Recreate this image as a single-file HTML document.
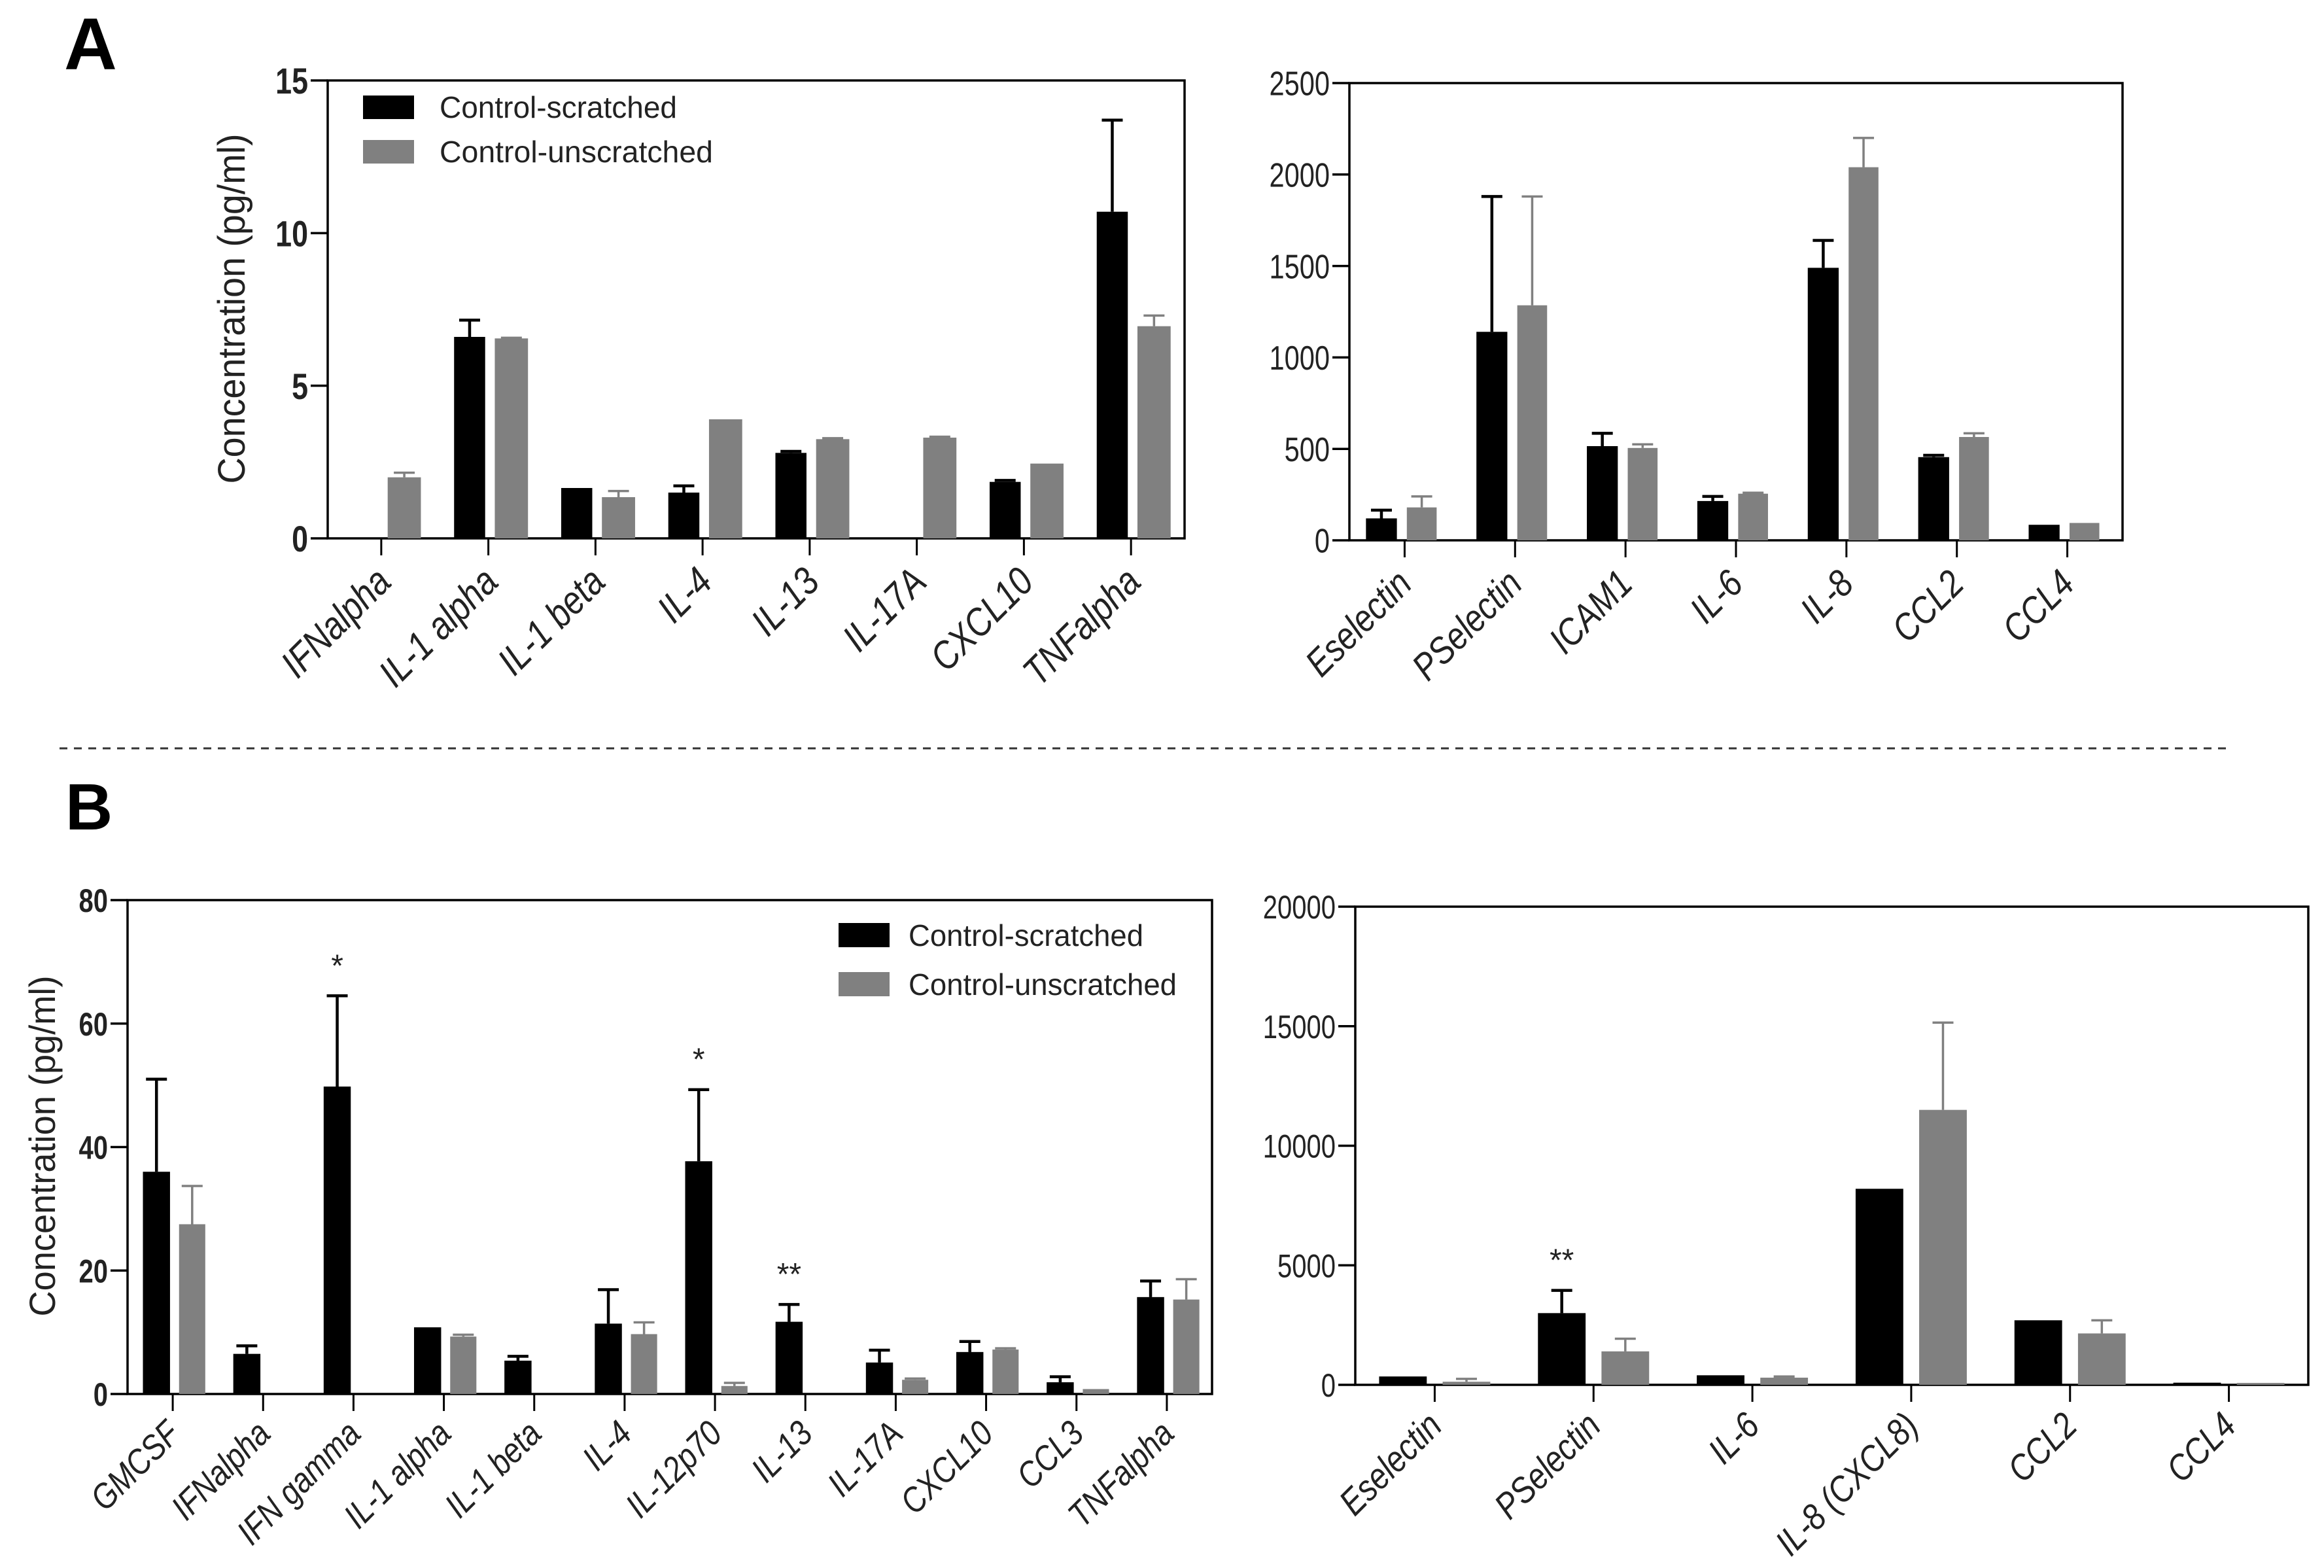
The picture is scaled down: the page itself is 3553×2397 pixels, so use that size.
<!DOCTYPE html>
<html><head><meta charset="utf-8"><style>
html,body{margin:0;padding:0;background:#fff;}
svg{display:block;font-family:"Liberation Sans",sans-serif;}
</style></head><body>
<svg id="fig" width="3553" height="2397" viewBox="0 0 3553 2397" xmlns="http://www.w3.org/2000/svg">
<rect x="0" y="0" width="3553" height="2397" fill="#fff"/>
<text x="98" y="106" font-size="112" font-weight="bold">A</text>
<text x="100" y="1268" font-size="100" font-weight="bold">B</text>
<line x1="91" y1="1144" x2="3410" y2="1144" stroke="#333" stroke-width="3" stroke-dasharray="12,10"/>
<g id="charts"></g>
</svg>
<script>
// Panel A left
const aLeftCats = ["IFNalpha","IL-1  alpha","IL-1  beta","IL-4","IL-13","IL-17A","CXCL10","TNFalpha"];
const aLeftBlack = [0, 6.6, 1.65, 1.5, 2.8, 0, 1.85, 10.7];
const aLeftBlackErr = [0, 7.15, 1.65, 1.72, 2.85, 0, 1.9, 13.7];
const aLeftGray = [2.0, 6.55, 1.35, 3.9, 3.25, 3.3, 2.45, 6.95];
const aLeftGrayErr = [2.15, 6.57, 1.55, 3.9, 3.28, 3.33, 2.45, 7.3];
const aLeftTicks = [0, 5, 10, 15];
const aLeftStars = ["","","","","","","",""];
// Panel A right
const aRightCats = ["Eselectin","PSelectin","ICAM1","IL-6","IL-8","CCL2","CCL4"];
const aRightBlack = [120, 1140, 515, 215, 1490, 455, 85];
const aRightBlackErr = [165, 1880, 585, 240, 1640, 465, 85];
const aRightGray = [180, 1285, 505, 255, 2040, 565, 95];
const aRightGrayErr = [240, 1880, 525, 260, 2200, 585, 95];
const aRightTicks = [0, 500, 1000, 1500, 2000, 2500];
const aRightStars = ["","","","","","",""];
// Panel B left
const bLeftCats = ["GMCSF","IFNalpha","IFN gamma","IL-1 alpha","IL-1 beta","IL-4","IL-12p70","IL-13","IL-17A","CXCL10","CCL3","TNFalpha"];
const bLeftBlack = [36, 6.5, 49.8, 10.8, 5.4, 11.4, 37.7, 11.7, 5.1, 6.8, 1.9, 15.7];
const bLeftBlackErr = [51, 7.8, 64.5, 10.8, 6.1, 16.9, 49.3, 14.5, 7.1, 8.5, 2.8, 18.3];
const bLeftGray = [27.5, 0, 0, 9.3, 0, 9.7, 1.3, 0, 2.3, 7.2, 0.8, 15.3];
const bLeftGrayErr = [33.7, 0, 0, 9.6, 0, 11.6, 1.8, 0, 2.5, 7.4, 0.8, 18.6];
const bLeftTicks = [0, 20, 40, 60, 80];
const bLeftStars = ["","","*","","","","*","**","","","",""];
// Panel B right
const bRightCats = ["Eselectin","PSelectin","IL-6","IL-8 (CXCL8)","CCL2","CCL4"];
const bRightBlack = [350, 3000, 400, 8200, 2700, 90];
const bRightBlackErr = [350, 3950, 400, 8200, 2700, 90];
const bRightGray = [130, 1400, 300, 11500, 2150, 80];
const bRightGrayErr = [250, 1930, 350, 15150, 2700, 80];
const bRightTicks = [0, 5000, 10000, 15000, 20000];
const bRightStars = ["","**","","","",""];

const NS = "http://www.w3.org/2000/svg";
const root = document.getElementById("charts");
function mk(tag, attrs, parent){
  const e = document.createElementNS(NS, tag);
  for (const k in attrs) e.setAttribute(k, attrs[k]);
  (parent || root).appendChild(e);
  return e;
}
function drawChart(c){
  const g = mk("g", {});
  
  
  const ymax = c.ticks[c.ticks.length-1];
  const yS = v => c.bottom - (v / ymax) * (c.bottom - c.top);
  const cw = (c.right - c.left) / c.cats.length;
  const xC = i => c.left + (i + 0.5) * cw;
  const fr = mk("rect", {x:c.left, y:c.top, width:c.right-c.left, height:c.bottom-c.top, fill:"none", stroke:"#000", "stroke-width":3.5}, g);
  
  
  c.ticks.forEach(t => {
    const y = yS(t);
    const tl = mk("line", {x1:c.left-26, y1:y, x2:c.left, y2:y, stroke:"#000", "stroke-width":3.5}, g);
    
    
    const tg = mk("g", {transform:`translate(${c.left-30},${y + c.tickFs*0.36}) scale(0.8,1)`}, g);
    const tx = mk("text", {x:0, y:0, "text-anchor":"end", "font-size":c.tickFs, "font-weight":c.tickBold?"bold":"normal", fill:"#222"}, tg);
    tx.textContent = t;
    
    
  });
  c.cats.forEach((cat, i) => {
    const xc = xC(i);
    const xt = mk("line", {x1:xc, y1:c.bottom, x2:xc, y2:c.bottom+26, stroke:"#000", "stroke-width":3}, g);
    
    
    const series = [
      {v:c.black[i], e:c.blackErr[i], a:c.bOff[0], b:c.bOff[1], col:"#000", sw:4.5, nm:"bar-control-scratched"},
      {v:c.gray[i], e:c.grayErr[i], a:c.gOff[0], b:c.gOff[1], col:"#808080", sw:3.5, nm:"bar-control-unscratched"}
    ];
    series.forEach(s => {
      if (s.v <= 0) return;
      const x0 = xc + s.a*cw, x1 = xc + s.b*cw;
      const r = mk("rect", {x:x0, y:yS(s.v), width:x1-x0, height:c.bottom-yS(s.v), fill:s.col}, g);
      
      
      if (s.e > s.v) {
        const xm = (x0+x1)/2;
        const el = mk("path", {d:`M${xm},${yS(s.v)} L${xm},${yS(s.e)} M${xm-16},${yS(s.e)} L${xm+16},${yS(s.e)}`, stroke:s.col, "stroke-width":s.sw, fill:"none"}, g);
        
        
      }
    });
    if (c.stars[i]) {
      const xm = xc + (c.bOff[0]+c.bOff[1])/2*cw;
      const st = mk("text", {x:xm, y:yS(c.blackErr[i]) - 30, "text-anchor":"middle", "font-size":48, fill:"#222"}, g);
      st.textContent = c.stars[i];
      
      
    }
    const lg = mk("g", {transform:`translate(${xc + c.lblDx},${c.bottom + c.lblDy}) rotate(-45) scale(0.85,1)`}, g);
    const lt = mk("text", {x:0, y:0, "text-anchor":"end", "font-size":c.lblFs, "font-style":"italic", fill:"#222"}, lg);
    lt.textContent = cat;
    
    
  });
}

drawChart({name:"chart-a-left", left:501, right:1811, top:123, bottom:823, cats:aLeftCats, black:aLeftBlack, blackErr:aLeftBlackErr, gray:aLeftGray, grayErr:aLeftGrayErr, ticks:aLeftTicks, stars:aLeftStars, bOff:[-0.32,-0.03], gOff:[0.06,0.37], tickFs:56, tickBold:true, lblFs:60, lblDx:18, lblDy:70});
drawChart({name:"chart-a-right", left:2063, right:3245, top:127, bottom:826, cats:aRightCats, black:aRightBlack, blackErr:aRightBlackErr, gray:aRightGray, grayErr:aRightGrayErr, ticks:aRightTicks, stars:aRightStars, bOff:[-0.35,-0.07], gOff:[0.02,0.29], tickFs:52, tickBold:false, lblFs:58, lblDx:14, lblDy:70});
drawChart({name:"chart-b-left", left:195, right:1853, top:1376, bottom:2131, cats:bLeftCats, black:bLeftBlack, blackErr:bLeftBlackErr, gray:bLeftGray, grayErr:bLeftGrayErr, ticks:bLeftTicks, stars:bLeftStars, bOff:[-0.33,-0.03], gOff:[0.07,0.36], tickFs:50, tickBold:true, lblFs:54, lblDx:14, lblDy:64});
drawChart({name:"chart-b-right", left:2072, right:3529, top:1386, bottom:2117, cats:bRightCats, black:bRightBlack, blackErr:bRightBlackErr, gray:bRightGray, grayErr:bRightGrayErr, ticks:bRightTicks, stars:bRightStars, bOff:[-0.35,-0.05], gOff:[0.05,0.35], tickFs:50, tickBold:false, lblFs:56, lblDx:14, lblDy:66});

function yTitle(x, y, len, fs, nm){
  const t = mk("text", {x:0, y:0, transform:`translate(${x},${y}) rotate(-90)`, "text-anchor":"middle", "font-size":fs, fill:"#222", textLength:len, lengthAdjust:"spacingAndGlyphs"});
  t.textContent = "Concentration (pg/ml)";
  
  
}
yTitle(374, 472, 535, 58, "y-axis-title-a");
yTitle(84, 1752, 521, 56, "y-axis-title-b");

function legend(bx, by1, by2, tx, t1len, t2len, bh, nm){
  const g = mk("g", {});
  
  
  const r1 = mk("rect", {x:bx, y:by1, width:78, height:bh, fill:"#000"}, g);
  
  
  const r2 = mk("rect", {x:bx, y:by2, width:78, height:bh, fill:"#808080"}, g);
  
  
  const t1 = mk("text", {x:tx, y:by1+bh-2, "font-size":46, fill:"#222", textLength:t1len, lengthAdjust:"spacingAndGlyphs"}, g);
  t1.textContent = "Control-scratched";
  
  
  const t2 = mk("text", {x:tx, y:by2+bh-2, "font-size":46, fill:"#222", textLength:t2len, lengthAdjust:"spacingAndGlyphs"}, g);
  t2.textContent = "Control-unscratched";
  
  
}
legend(555, 146, 214, 672, 363, 418, 36, "legend-a");
legend(1282, 1411, 1486, 1389, 359, 410, 37, "legend-b");
</script>
</body></html>
